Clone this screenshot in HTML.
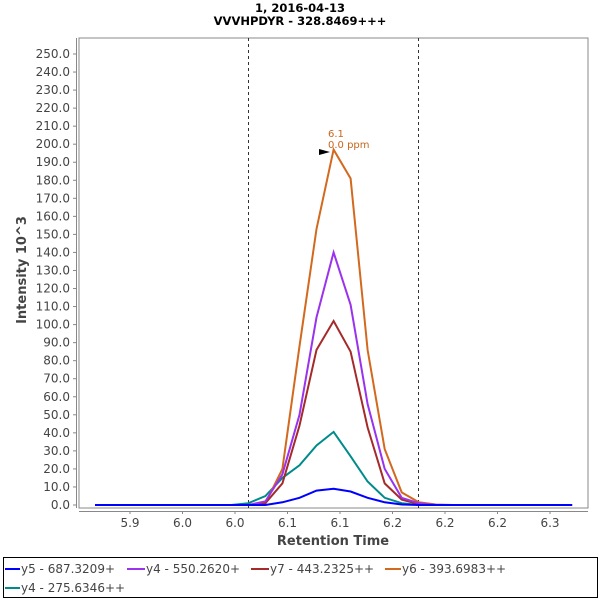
<!DOCTYPE html>
<html><head><style>body{margin:0;background:#fff}svg{display:block;font-family:"DejaVu Sans","Liberation Sans",sans-serif}</style></head><body>
<svg width="600" height="600" xmlns="http://www.w3.org/2000/svg">
<rect width="600" height="600" fill="#fff"/>
<text x="300" y="12" text-anchor="middle" font-size="11.5" font-weight="bold">1, 2016-04-13</text>
<text x="300" y="25" text-anchor="middle" font-size="11.5" font-weight="bold">VVVHPDYR - 328.8469+++</text>
<rect x="79" y="38" width="509" height="470" fill="#fff" stroke="#888" stroke-width="1"/>
<line x1="76.5" y1="38" x2="76.5" y2="508" stroke="#888"/>
<line x1="79" y1="511.5" x2="588" y2="511.5" stroke="#888"/>
<g id="yt" font-size="12" fill="#444" text-anchor="end"></g>
<g id="xt" font-size="12" fill="#444" text-anchor="middle"></g>
<line x1="248.5" y1="38" x2="248.5" y2="508" stroke="#333" stroke-dasharray="3,3"/>
<line x1="418.5" y1="38" x2="418.5" y2="508" stroke="#333" stroke-dasharray="3,3"/>
<g id="series" fill="none" stroke-width="2"></g>
<text x="328" y="137" font-size="10" fill="#c8651b">6.1</text>
<text x="328" y="148" font-size="10" fill="#c8651b">0.0 ppm</text>
<polygon points="319,149 319,155 330,152" fill="#000"/>
<text x="26" y="270" font-size="13" font-weight="bold" fill="#444" text-anchor="middle" transform="rotate(-90 26 270)">Intensity 10^3</text>
<text x="333" y="545" font-size="13" font-weight="bold" fill="#444" text-anchor="middle">Retention Time</text>
<rect x="3.5" y="557.5" width="594" height="40" fill="#fff" stroke="#000"/>
<g font-size="12" fill="#444">
<line x1="5" y1="569" x2="20" y2="569" stroke="#0000ff" stroke-width="2"/><text x="21" y="573">y5 - 687.3209+</text>
<line x1="127" y1="569" x2="145" y2="569" stroke="#9a32ee" stroke-width="2"/><text x="146" y="573">y4 - 550.2620+</text>
<line x1="251" y1="569" x2="269" y2="569" stroke="#a52a2a" stroke-width="2"/><text x="270" y="573">y7 - 443.2325++</text>
<line x1="385" y1="569" x2="401" y2="569" stroke="#d2691e" stroke-width="2"/><text x="402" y="573">y6 - 393.6983++</text>
<line x1="5" y1="588" x2="20" y2="588" stroke="#008b8b" stroke-width="2"/><text x="21" y="592">y4 - 275.6346++</text>
</g>
</svg>
<script>
const ns="http://www.w3.org/2000/svg";
function el(t,a,p,txt){const e=document.createElementNS(ns,t);for(const k in a)e.setAttribute(k,a[k]);if(txt!=null)e.textContent=txt;p.appendChild(e);return e;}
const Y=v=>505-1.804*v, X=k=>95+k*17.04;
const yt=document.getElementById('yt'),svg=document.querySelector('svg');
for(let v=0;v<=250;v+=10){const y=Y(v);el('text',{x:70,y:y+4},yt,v.toFixed(1));el('line',{x1:73,y1:y,x2:76,y2:y,stroke:'#888'},svg);}
const xt=document.getElementById('xt');
['5.9','6.0','6.0','6.1','6.1','6.2','6.2','6.2','6.3'].forEach((l,i)=>{const x=130+i*52.5;el('text',{x:x,y:527},xt,l);el('line',{x1:x,y1:511,x2:x,y2:514,stroke:'#888'},svg);});
const S=[
['#008b8b',{9:1,10:5,11:15,12:22,13:33,14:40.5,15:27,16:13,17:4,18:1}],
['#d2691e',{10:1,11:20,12:88,13:153,14:197,15:181,16:86,17:31,18:7,19:1.5,20:0.3}],
['#a52a2a',{10:1,11:12,12:44,13:86,14:102,15:85,16:43,17:12,18:3,19:0.5}],
['#9a32ee',{10:2,11:17,12:50,13:104,14:140,15:111,16:56,17:20,18:4,19:1}],
['#0000ff',{11:1.5,12:4,13:8,14:9,15:7.5,16:4,17:1.5,18:0.3}]];
const g=document.getElementById('series');
S.forEach(([c,d])=>{let p=[];for(let k=0;k<=28;k++)p.push(X(k).toFixed(1)+','+Y(d[k]||0).toFixed(1));el('polyline',{points:p.join(' '),stroke:c},g);});
</script>
</body></html>
